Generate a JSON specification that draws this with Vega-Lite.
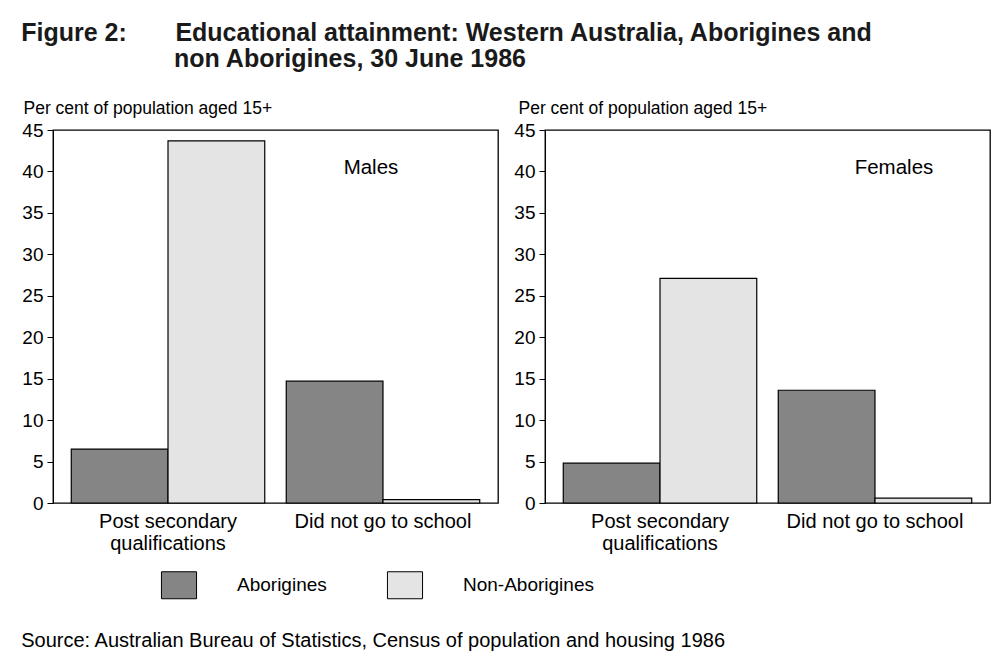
{
  "$schema": "https://vega.github.io/schema/vega-lite/v6.json",
  "background": "white",
  "padding": {"left": 21, "top": 21, "right": 0, "bottom": 0},
  "config": {
    "font": "Liberation Sans",
    "view": {"stroke": "black", "strokeWidth": 1.3},
    "axis": {"labelColor": "black", "titleColor": "black", "domainColor": "black", "tickColor": "black", "grid": false}
  },
  "title": {
    "text": ["Figure 2:\u00a0\u00a0\u00a0\u00a0\u00a0\u00a0\u00a0Educational attainment: Western Australia, Aborigines and", "\u200b\u00a0\u00a0\u00a0\u00a0\u00a0\u00a0\u00a0\u00a0\u00a0\u00a0\u00a0\u00a0\u00a0\u00a0\u00a0\u00a0\u00a0\u00a0\u00a0\u00a0\u00a0\u00a0non Aborigines, 30 June 1986"],
    "anchor": "start",
    "frame": "bounds",
    "fontSize": 25,
    "fontWeight": "bold",
    "color": "#1a1a1a",
    "lineHeight": 26,
    "offset": 26,
    "dx": 0
  },
  "datasets": {
    "main": [
      {"sex": "Males", "category": "Post secondary qualifications", "group": "Aborigines", "value": 6.5},
      {"sex": "Males", "category": "Post secondary qualifications", "group": "Non-Aborigines", "value": 43.7},
      {"sex": "Males", "category": "Did not go to school", "group": "Aborigines", "value": 14.7},
      {"sex": "Males", "category": "Did not go to school", "group": "Non-Aborigines", "value": 0.4},
      {"sex": "Females", "category": "Post secondary qualifications", "group": "Aborigines", "value": 4.8},
      {"sex": "Females", "category": "Post secondary qualifications", "group": "Non-Aborigines", "value": 27.1},
      {"sex": "Females", "category": "Did not go to school", "group": "Aborigines", "value": 13.6},
      {"sex": "Females", "category": "Did not go to school", "group": "Non-Aborigines", "value": 0.6}
    ],
    "panels": [
      {"sex": "Males", "category": "Did not go to school", "value": 41},
      {"sex": "Females", "category": "Did not go to school", "value": 41}
    ]
  },
  "vconcat": [
    {
      "hconcat": [
        {
          "width": 445,
          "height": 373,
          "layer": [
            {
              "data": {"name": "main"},
              "transform": [{"filter": "datum.sex === 'Males'"}],
              "mark": {"type": "bar", "stroke": "black", "strokeWidth": 1.2},
              "encoding": {
                "x": {"field": "category", "type": "nominal",
                      "scale": {"domain": ["Post secondary qualifications", "Did not go to school"], "paddingInner": 0.1, "paddingOuter": 0.085},
                      "axis": {"title": null, "ticks": false, "domain": false, "labelAngle": 0, "labelFontSize": 20, "labelPadding": 8, "labelLineHeight": 22,
                               "labelExpr": "datum.label === 'Post secondary qualifications' ? ['Post secondary', 'qualifications'] : datum.label"}},
                "xOffset": {"field": "group", "sort": ["Aborigines", "Non-Aborigines"]},
                "y": {"field": "value", "type": "quantitative", "scale": {"domain": [0, 45]},
                      "axis": {"values": [0, 5, 10, 15, 20, 25, 30, 35, 40, 45], "tickSize": 6, "labelFontSize": 19, "labelPadding": 4,
                               "title": "Per cent of population aged 15+", "titleAngle": 0, "titleAlign": "left", "titleBaseline": "bottom",
                               "titleX": -30, "titleY": -13, "titleFontWeight": "normal", "titleFontSize": 17.5}},
                "color": {"field": "group", "type": "nominal",
                          "scale": {"domain": ["Aborigines", "Non-Aborigines"], "range": ["#858585", "#e4e4e4"]},
                          "legend": {"title": null, "orient": "none", "legendX": 112, "legendY": 441, "direction": "horizontal",
                                     "symbolType": "M-1.3,-1H1.3V1H-1.3Z", "symbolSize": 729, "symbolStrokeColor": "black", "symbolStrokeWidth": 1,
                                     "symbolOpacity": 1, "labelFontSize": 19, "labelColor": "black", "labelOffset": 44, "columnPadding": 58}}
              }
            },
            {
              "data": {"name": "panels"},
              "transform": [{"filter": "datum.sex === 'Males'"}],
              "mark": {"type": "text", "fontSize": 20.5, "color": "black", "dx": -12, "dy": 5},
              "encoding": {
                "x": {"field": "category", "type": "nominal"},
                "y": {"field": "value", "type": "quantitative"},
                "text": {"field": "sex"}
              }
            }
          ]
        },
        {
          "width": 445,
          "height": 373,
          "layer": [
            {
              "data": {"name": "main"},
              "transform": [{"filter": "datum.sex === 'Females'"}],
              "mark": {"type": "bar", "stroke": "black", "strokeWidth": 1.2},
              "encoding": {
                "x": {"field": "category", "type": "nominal",
                      "scale": {"domain": ["Post secondary qualifications", "Did not go to school"], "paddingInner": 0.1, "paddingOuter": 0.085},
                      "axis": {"title": null, "ticks": false, "domain": false, "labelAngle": 0, "labelFontSize": 20, "labelPadding": 8, "labelLineHeight": 22,
                               "labelExpr": "datum.label === 'Post secondary qualifications' ? ['Post secondary', 'qualifications'] : datum.label"}},
                "xOffset": {"field": "group", "sort": ["Aborigines", "Non-Aborigines"]},
                "y": {"field": "value", "type": "quantitative", "scale": {"domain": [0, 45]},
                      "axis": {"values": [0, 5, 10, 15, 20, 25, 30, 35, 40, 45], "tickSize": 6, "labelFontSize": 19, "labelPadding": 4,
                               "title": "Per cent of population aged 15+", "titleAngle": 0, "titleAlign": "left", "titleBaseline": "bottom",
                               "titleX": -27, "titleY": -13, "titleFontWeight": "normal", "titleFontSize": 17.5}},
                "color": {"field": "group", "type": "nominal",
                          "scale": {"domain": ["Aborigines", "Non-Aborigines"], "range": ["#858585", "#e4e4e4"]}}
              }
            },
            {
              "data": {"name": "panels"},
              "transform": [{"filter": "datum.sex === 'Females'"}],
              "mark": {"type": "text", "fontSize": 20.5, "color": "black", "dx": 19, "dy": 5},
              "encoding": {
                "x": {"field": "category", "type": "nominal"},
                "y": {"field": "value", "type": "quantitative"},
                "text": {"field": "sex"}
              }
            }
          ]
        }
      ],
      "spacing": 14,
      "title": {"text": "Source:  Australian Bureau of Statistics, Census of population and housing 1986", "orient": "bottom", "anchor": "start",
                "frame": "bounds", "fontSize": 20, "fontWeight": "normal", "color": "black", "offset": 77, "dx": 0}
    }
  ]
}
